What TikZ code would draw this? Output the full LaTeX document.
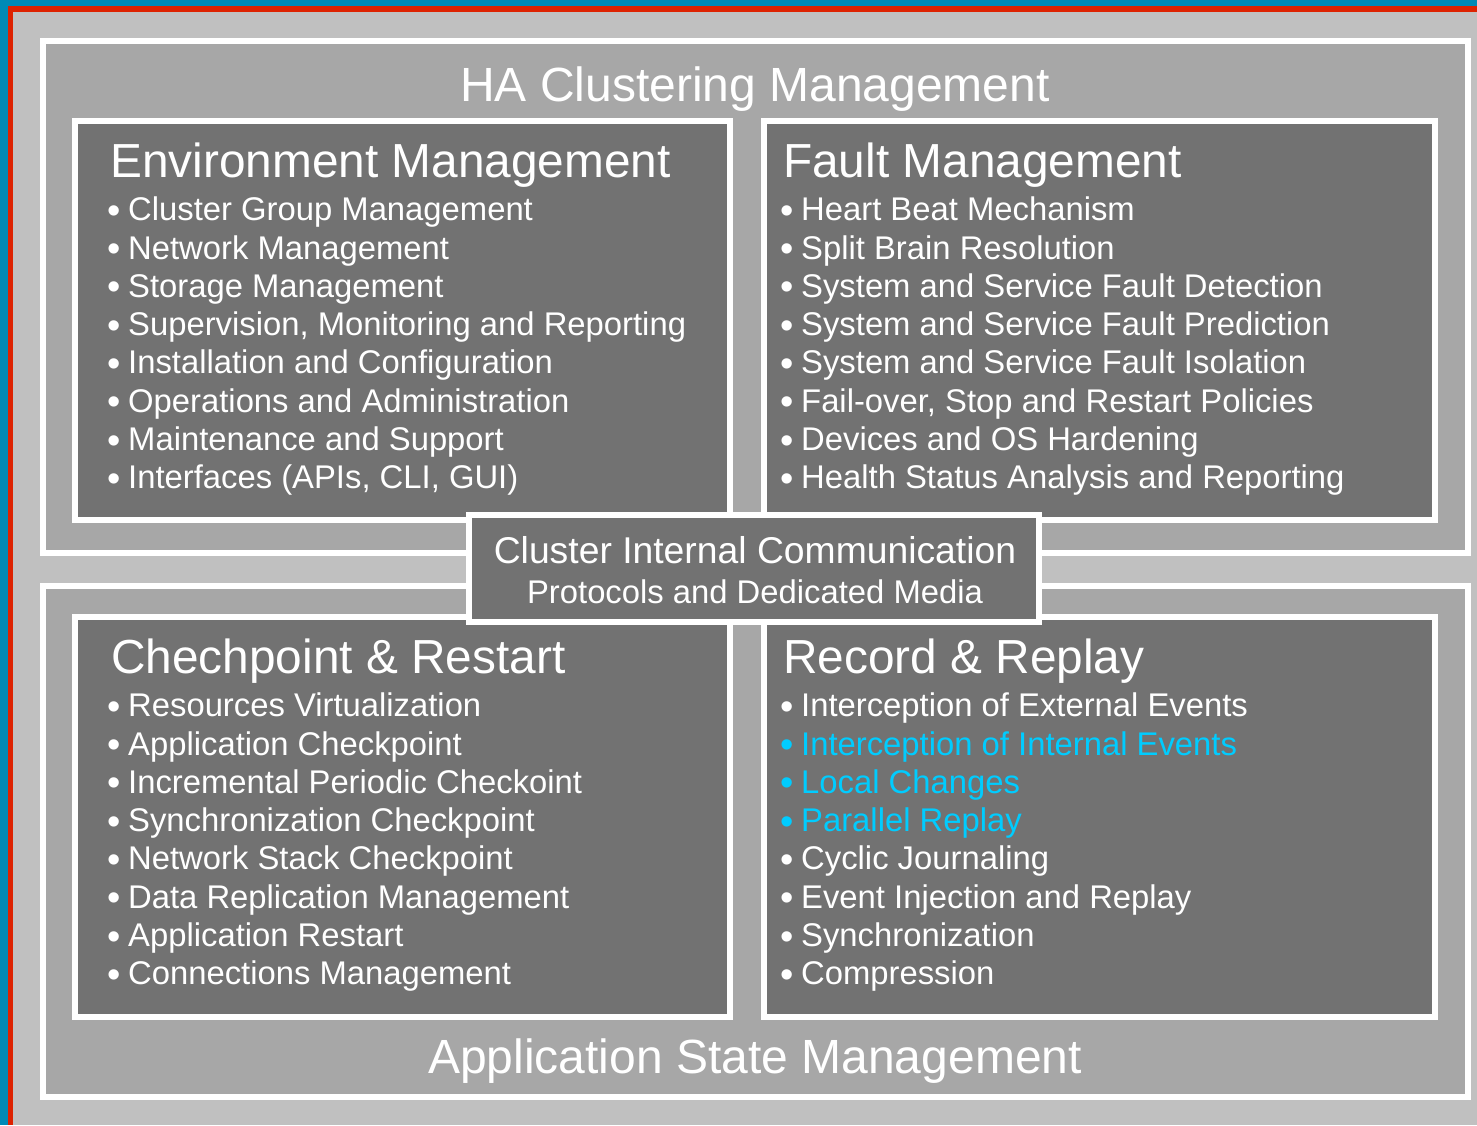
\documentclass[tikz,border=0pt]{standalone}
\usepackage{fontspec}
\setmainfont{Liberation Sans}
\definecolor{bgblue}{RGB}{0,138,182}
\definecolor{bgred}{RGB}{221,34,0}
\definecolor{lightgr}{RGB}{192,192,192}
\definecolor{midgr}{RGB}{167,167,167}
\definecolor{darkgr}{RGB}{114,114,114}
\definecolor{cyantx}{RGB}{0,204,255}
\newcommand\itm[1]{\llap{\raisebox{-2.5pt}{\fontsize{38}{38}\selectfont •}\hspace{7pt}}#1}
\begin{document}
\begin{tikzpicture}[x=1pt,y=-1pt,
  panel/.style={draw=white,line width=6pt,rectangle,inner sep=0pt,outer sep=0pt},
  outerpanel/.style={panel,fill=midgr},
  innerpanel/.style={panel,fill=darkgr},
  bigtitle/.style={text=white,font=\fontsize{48}{56}\selectfont,inner sep=0pt,anchor=base},
  ptitle/.style={text=white,font=\fontsize{47.8}{56}\selectfont,inner sep=0pt,anchor=base west},
  item/.style={text=white,font=\fontsize{32.8}{38}\selectfont,inner sep=0pt,anchor=base west},
  midtext/.style={text=white,inner sep=0pt,anchor=base},
  hl/.style={text=cyantx}]
\useasboundingbox (0,0) rectangle (1477,1125);
% background
\fill[lightgr] (0,0) rectangle (1477,1125);
\fill[bgblue] (0,0) rectangle (8,1125);
\fill[bgblue] (0,0) rectangle (1477,6);
\fill[bgred] (8,6) rectangle (13,1125);
\fill[bgred] (8,6) rectangle (1477,12);
% outer panels
\node[outerpanel,minimum width=1425pt,minimum height=512pt] (ha) at (755.5,297) {};
\node[outerpanel,minimum width=1425pt,minimum height=511pt] (asm) at (755.5,841.5) {};
% inner panels
\node[innerpanel,minimum width=655pt,minimum height=399pt] (env) at (402.5,320.5) {};
\node[innerpanel,minimum width=671pt,minimum height=399pt] (fault) at (1099.5,320.5) {};
\node[innerpanel,minimum width=655pt,minimum height=400pt] (cr) at (402.5,817) {};
\node[innerpanel,minimum width=671pt,minimum height=400pt] (rr) at (1099.5,817) {};
% middle box
\node[innerpanel,minimum width=570pt,minimum height=107pt] (cic) at (754,568.5) {};
% titles
\node[bigtitle] (tha) at (755,101) {HA Clustering Management};
\node[bigtitle] (tasm) at (755,1073) {Application State Management};
\node[ptitle] (tenv) at (110,177) {Environment Management};
\node[ptitle] (tfault) at (783,177) {Fault Management};
\node[ptitle] (tcr) at (111,673) {Chechpoint \& Restart};
\node[ptitle] (trr) at (783,673) {Record \& Replay};
\node[midtext,font=\fontsize{37.3}{44}\selectfont] (tcic1) at (755,563) {Cluster Internal Communication};
\node[midtext,font=\fontsize{32.8}{38}\selectfont] (tcic2) at (755,603.5) {Protocols and Dedicated Media};
% items
\foreach \t [count=\i] in {Cluster Group Management, Network Management, Storage Management,
  {Supervision, Monitoring and Reporting}, Installation and Configuration,
  Operations and Administration, Maintenance and Support, {Interfaces (APIs, CLI, GUI)}}
  \node[item] (env\i) at (128,{220.7+38.3*(\i-1)}) {\itm{\t}};
\foreach \t [count=\i] in {Heart Beat Mechanism, Split Brain Resolution,
  System and Service Fault Detection, System and Service Fault Prediction,
  System and Service Fault Isolation, {Fail-over, Stop and Restart Policies},
  Devices and OS Hardening, Health Status Analysis and Reporting}
  \node[item] (fault\i) at (801,{220.7+38.3*(\i-1)}) {\itm{\t}};
\foreach \t [count=\i] in {Resources Virtualization, Application Checkpoint,
  Incremental Periodic Checkoint, Synchronization Checkpoint, Network Stack Checkpoint,
  Data Replication Management, Application Restart, Connections Management}
  \node[item] (cr\i) at (128,{716.7+38.3*(\i-1)}) {\itm{\t}};
\node[item] (rr1) at (801,716.7) {\itm{Interception of External Events}};
\node[item,hl] (rr2) at (801,755.0) {\itm{Interception of Internal Events}};
\node[item,hl] (rr3) at (801,793.3) {\itm{Local Changes}};
\node[item,hl] (rr4) at (801,831.6) {\itm{Parallel Replay}};
\node[item] (rr5) at (801,869.9) {\itm{Cyclic Journaling}};
\node[item] (rr6) at (801,908.2) {\itm{Event Injection and Replay}};
\node[item] (rr7) at (801,946.5) {\itm{Synchronization}};
\node[item] (rr8) at (801,984.8) {\itm{Compression}};
\end{tikzpicture}
\end{document}
